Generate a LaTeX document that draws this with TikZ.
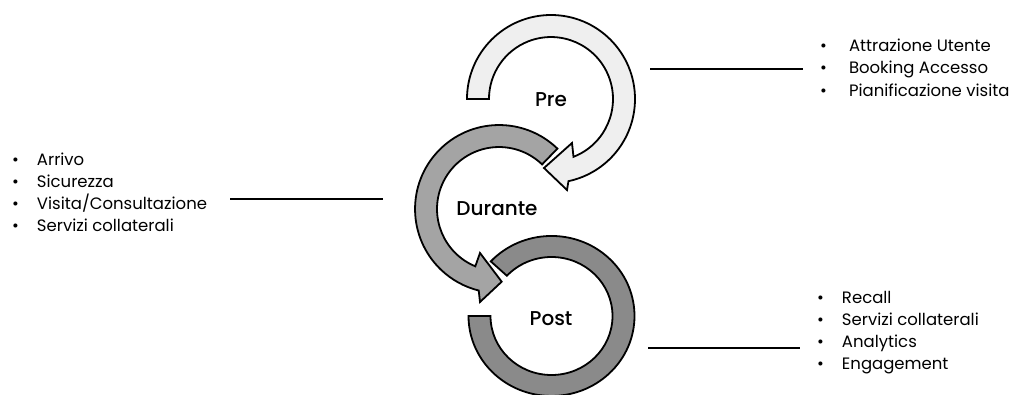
\documentclass[tikz,border=0pt]{standalone}
\usepackage{fontspec}
\setmainfont{Poppins}
\newfontfamily\lblfont{Poppins}[UprightFont={* Medium}]
\definecolor{pregray}{HTML}{EFEFEF}
\definecolor{durgray}{HTML}{A4A4A4}
\definecolor{postgray}{HTML}{8A8A8A}
\tikzset{
  ring/.style={draw=black, line width=1.8pt, line join=miter},
  lbl/.style={font=\fontsize{20}{24}\selectfont\lblfont, inner sep=0pt},
  lst/.style={font=\fontsize{16.5}{22.2}\selectfont, inner sep=0pt, anchor=west},
  conn/.style={draw=black, line width=2pt}
}
\begin{document}
\begin{tikzpicture}[x=1pt,y=1pt]
\useasboundingbox[fill=white] (0,0) rectangle (1018,-394);
% Pre arrow
\draw[ring, fill=pregray] (467,-99) arc[start angle=180, end angle=-78, radius=84pt]
  -- (567,-190) -- (544,-168) -- (572,-143) -- (573.5,-156.8)
  arc[start angle=-68.7, end angle=180, radius=62pt] -- cycle;
% Durante arrow
\draw[ring, fill=durgray] (557.4,-148.6) arc[start angle=46, end angle=256, radius=84pt]
  -- (480,-302) -- (501.7,-281.7) -- (480,-253) -- (475.3,-266.3)
  arc[start angle=247.5, end angle=46, radius=62pt] -- cycle;
% Post ring
\draw[ring, fill=postgray] (490.8,-261.4) arc[start angle=137, end angle=-180, x radius=83pt, y radius=80pt]
  -- (490.5,-316) arc[start angle=-180, end angle=137, x radius=61pt, y radius=59pt] -- cycle;
% labels
\node[lbl] (pre) at (551,-100) {Pre};
\node[lbl] (durante) at (497,-209) {Durante};
\node[lbl] (post) at (551,-319) {Post};
% lists
\node[lst] (toplist) at (820,-69.5) {\begin{tabular}{@{}l@{\hspace{22pt}}l@{}}
• & Attrazione Utente\\ • & Booking Accesso\\ • & Pianificazione visita\end{tabular}};
\node[lst] (leftlist) at (12,-194) {\begin{tabular}{@{}l@{\hspace{18pt}}l@{}}
• & Arrivo\\ • & Sicurezza\\ • & Visita/Consultazione\\ • & Servizi collaterali\end{tabular}};
\node[lst] (botlist) at (817,-332) {\begin{tabular}{@{}l@{\hspace{18pt}}l@{}}
• & Recall\\ • & Servizi collaterali\\ • & Analytics\\ • & Engagement\end{tabular}};
% connectors
\coordinate (ta) at (650,-69);
\coordinate (tb) at (803,-69);
\coordinate (la) at (230,-199);
\coordinate (lb) at (383,-199);
\coordinate (ba) at (648,-348);
\coordinate (bb) at (800,-348);
\draw[conn] (ta) -- (tb);
\draw[conn] (la) -- (lb);
\draw[conn] (ba) -- (bb);
\end{tikzpicture}
\end{document}
